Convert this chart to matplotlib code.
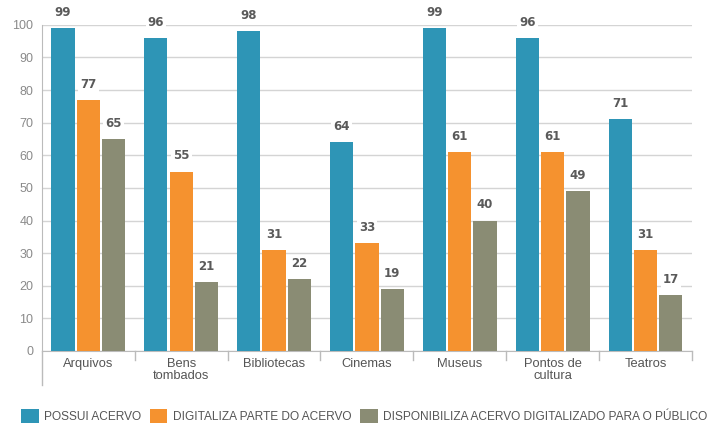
import numpy as np
import matplotlib.pyplot as plt
from matplotlib.patches import Patch
from matplotlib.lines import Line2D

plt.rcParams['font.family'] = ['Liberation Sans', 'DejaVu Sans']

# dados
categorias = ['Arquivos', 'Bens\ntombados', 'Bibliotecas', 'Cinemas', 'Museus', 'Pontos de\ncultura', 'Teatros']
possui = [99, 96, 98, 64, 99, 96, 71]
digitaliza = [77, 55, 31, 33, 61, 61, 31]
disponibiliza = [65, 21, 22, 19, 40, 49, 17]
series_nomes = ['POSSUI ACERVO', 'DIGITALIZA PARTE DO ACERVO', 'DISPONIBILIZA ACERVO DIGITALIZADO PARA O PÚBLICO']
cores = ['#2E95B6', '#F5922F', '#8A8C74']

fig = plt.figure(figsize=(7.09, 4.29), dpi=100)
ax = fig.add_axes([0.059, 0.182, 0.917, 0.76])

x = np.arange(len(categorias))
w = 0.25
desloc = 0.272
for i, (vals, cor) in enumerate(zip([possui, digitaliza, disponibiliza], cores)):
    pos = x + (i - 1) * desloc
    ax.bar(pos, vals, width=w, color=cor, zorder=3)
    for p, v in zip(pos, vals):
        ax.text(p, v + 2.8, str(v), ha='center', va='bottom', fontsize=8.5, fontweight='bold',
                family='DejaVu Sans', color='#5a5a5a', zorder=4, clip_on=False,
                bbox=dict(facecolor='white', edgecolor='none', pad=1.5))

ax.set_xlim(-0.5, len(categorias) - 0.5)
ax.set_ylim(0, 100)
ax.set_yticks(np.arange(0, 101, 10))
ax.yaxis.grid(True, color='#d4d4d4', linewidth=1, zorder=0)
ax.tick_params(axis='y', length=0, labelsize=9, labelcolor='#8a8a8a', pad=6)
ax.set_xticks(x)
ax.set_xticklabels(categorias, fontsize=9.3, color='#555555', linespacing=1.0)
ax.tick_params(axis='x', length=0, pad=5)

for s in ['top', 'right']:
    ax.spines[s].set_visible(False)
ax.spines['bottom'].set_color('#bbbbbb')
ax.spines['left'].set_color('#bbbbbb')
ax.spines['left'].set_bounds(0, 100)

# linha vertical estendida e separadores das categorias
ax.add_line(Line2D([0, 0], [0, -0.105], transform=ax.transAxes, color='#bbbbbb', lw=1, clip_on=False))
for b in np.arange(0.5, len(categorias), 1):
    ax.plot([b, b], [0, -2.8], color='#bbbbbb', lw=1, clip_on=False)

handles = [Patch(facecolor=c, edgecolor='none') for c in cores]
fig.legend(handles, series_nomes, loc='lower left', bbox_to_anchor=(0.015, -0.012), ncol=3,
           frameon=False, fontsize=8.6, handlelength=1.45, handleheight=1.45, handletextpad=0.45,
           columnspacing=0.75, labelcolor='#555555')

fig.savefig('out.png', dpi=100)
